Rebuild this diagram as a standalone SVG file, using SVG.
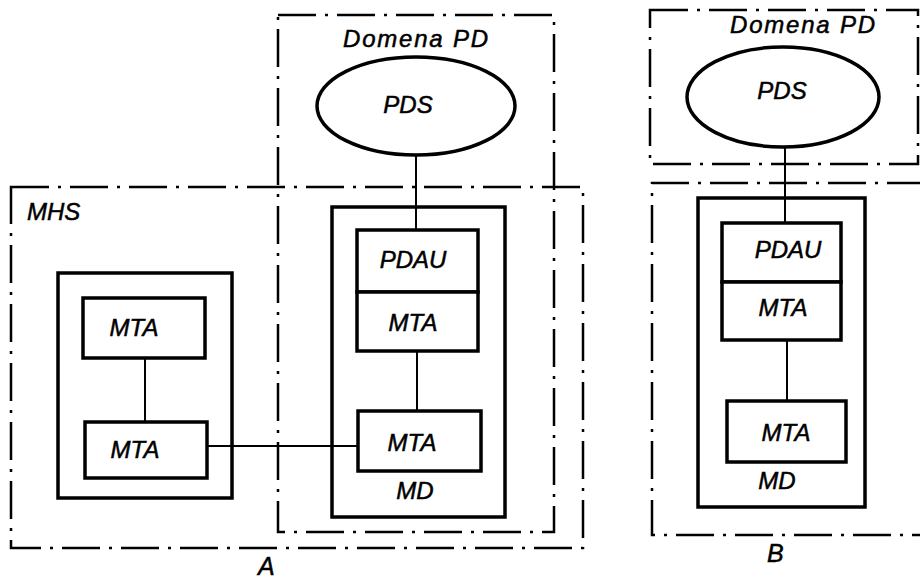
<svg xmlns="http://www.w3.org/2000/svg" width="920" height="581" viewBox="0 0 920 581">
<style>
.bound{fill:none;stroke:#000;stroke-width:2.5;stroke-dasharray:38 9 3 9}
.box{fill:none;stroke:#000;stroke-width:3.5}
.sub{fill:#fff;stroke:#000;stroke-width:3.5}
.conn{fill:none;stroke:#000;stroke-width:2}
text{font-family:"Liberation Sans","Arial",sans-serif;font-style:italic;font-size:24px;fill:#000;stroke:#000;stroke-width:0.5}
.big{font-size:25px}
.dom{font-size:24px;letter-spacing:1.8px}
</style>
<rect width="920" height="581" fill="#fff"/>
<g id="boundaries">
<rect id="mhs-a" x="11" y="187" width="572" height="361" class="bound"/>
<rect id="domain-a" x="278" y="15" width="276" height="517" class="bound"/>
<rect id="domain-b" x="650" y="10" width="268" height="154" class="bound"/>
<path id="mhs-b" d="M925 183 H652 V535 H925" class="bound"/>
</g>
<g id="labels">
<text x="27" y="220">MHS</text>
<text x="343" y="47" class="dom">Domena PD</text>
<text x="730" y="33" class="dom">Domena PD</text>
<text x="258" y="575" class="big">A</text>
<text x="767" y="562" class="big">B</text>
</g>
<g id="connectors">
<line x1="416" y1="155" x2="416" y2="230" class="conn"/>
<line x1="417" y1="351" x2="417" y2="411" class="conn"/>
<line x1="207" y1="446" x2="358" y2="446" class="conn"/>
<line x1="145" y1="358" x2="145" y2="422" class="conn"/>
<line x1="785" y1="147" x2="785" y2="223" class="conn"/>
<line x1="787" y1="340" x2="787" y2="401" class="conn"/>
</g>
<g id="md-left">
<rect x="58" y="273" width="174" height="225" class="box"/>
</g>
<g id="mta-left-top">
<rect x="83" y="298" width="122" height="60" class="sub"/>
<text x="134" y="336" text-anchor="middle">MTA</text>
</g>
<g id="mta-left-bottom">
<rect x="85" y="422" width="122" height="56" class="sub"/>
<text x="135" y="458" text-anchor="middle">MTA</text>
</g>
<g id="pds-a">
<ellipse cx="416" cy="106" rx="99" ry="49" class="sub"/>
<text x="408" y="113" text-anchor="middle">PDS</text>
</g>
<g id="md-a">
<rect x="332" y="207" width="173" height="310" class="box"/>
<text x="415" y="499" text-anchor="middle">MD</text>
</g>
<g id="pdau-a">
<rect x="357" y="230" width="121" height="62" class="sub"/>
<text x="413" y="268" text-anchor="middle">PDAU</text>
</g>
<g id="mta-a-top">
<rect x="357" y="292" width="121" height="59" class="sub"/>
<text x="413" y="331" text-anchor="middle">MTA</text>
</g>
<g id="mta-a-bottom">
<rect x="358" y="411" width="123" height="60" class="sub"/>
<text x="412" y="451" text-anchor="middle">MTA</text>
</g>
<g id="pds-b">
<ellipse cx="783" cy="97" rx="96" ry="50" class="sub"/>
<text x="782" y="99" text-anchor="middle">PDS</text>
</g>
<g id="md-b">
<rect x="698" y="198" width="167" height="309" class="box"/>
<text x="777" y="489" text-anchor="middle">MD</text>
</g>
<g id="pdau-b">
<rect x="722" y="223" width="119" height="59" class="sub"/>
<text x="788" y="258" text-anchor="middle">PDAU</text>
</g>
<g id="mta-b-top">
<rect x="722" y="282" width="119" height="58" class="sub"/>
<text x="783" y="316" text-anchor="middle">MTA</text>
</g>
<g id="mta-b-bottom">
<rect x="727" y="401" width="119" height="61" class="sub"/>
<text x="786" y="441" text-anchor="middle">MTA</text>
</g>
</svg>
